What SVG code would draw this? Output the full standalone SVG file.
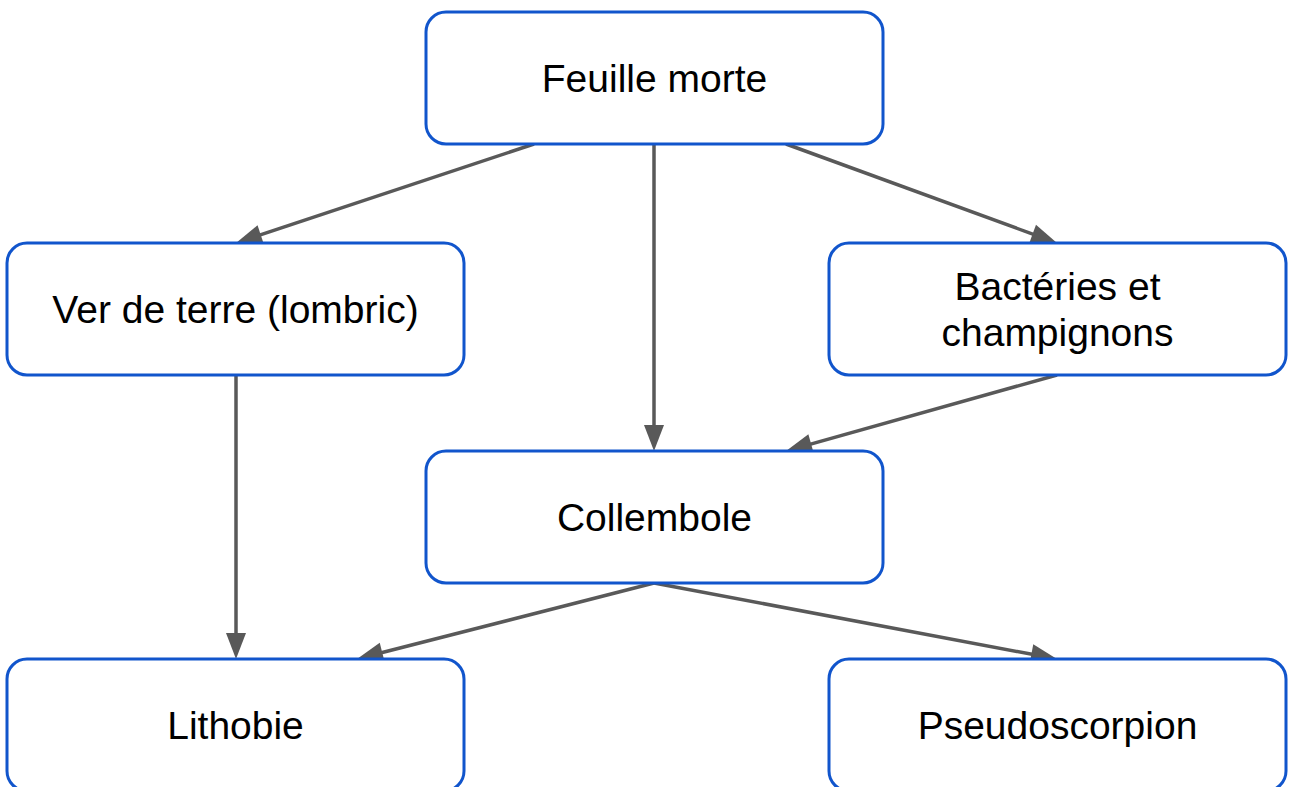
<svg xmlns="http://www.w3.org/2000/svg" width="1289" height="787" viewBox="0 0 1289 787">
<style>
.node rect{fill:#ffffff;stroke:#1155cc;stroke-width:3}
.node text{font-family:"Liberation Sans",Arial,sans-serif;font-size:39px;fill:#000000;text-anchor:middle}
.edges path{fill:none;stroke:#595959;stroke-width:3.5}
</style>
<defs>
<marker id="arr" markerUnits="userSpaceOnUse" markerWidth="26" markerHeight="20" refX="6" refY="10" orient="auto" overflow="visible">
<path d="M0,0 L26,10 L0,20 Z" fill="#595959"/>
</marker>
</defs>
<rect width="1289" height="787" fill="#ffffff"/>
<g class="edges">
<path d="M534,144 L255,236.7" marker-end="url(#arr)"/>
<path d="M654,144 L654,431" marker-end="url(#arr)"/>
<path d="M786,144 L1038.2,236.1" marker-end="url(#arr)"/>
<path d="M1057,375 L805.3,445.6" marker-end="url(#arr)"/>
<path d="M236,375 L236,639" marker-end="url(#arr)"/>
<path d="M654,583 L376.4,654" marker-end="url(#arr)"/>
<path d="M654,583 L1037.3,655.3" marker-end="url(#arr)"/>
</g>
<g id="feuille" class="node"><rect x="426" y="12" width="457" height="132" rx="20"/><text x="654.5" y="92">Feuille morte</text></g>
<g id="ver" class="node"><rect x="7" y="243" width="457" height="132" rx="20"/><text x="235.5" y="323">Ver de terre (lombric)</text></g>
<g id="bacteries" class="node"><rect x="829" y="243" width="457" height="132" rx="20"/><text x="1057.5" y="300">Bactéries et</text><text x="1057.5" y="346">champignons</text></g>
<g id="collembole" class="node"><rect x="426" y="451" width="457" height="132" rx="20"/><text x="654.5" y="531">Collembole</text></g>
<g id="lithobie" class="node"><rect x="7" y="659" width="457" height="132" rx="20"/><text x="235.5" y="739">Lithobie</text></g>
<g id="pseudoscorpion" class="node"><rect x="829" y="659" width="457" height="132" rx="20"/><text x="1057.5" y="739">Pseudoscorpion</text></g>
</svg>
